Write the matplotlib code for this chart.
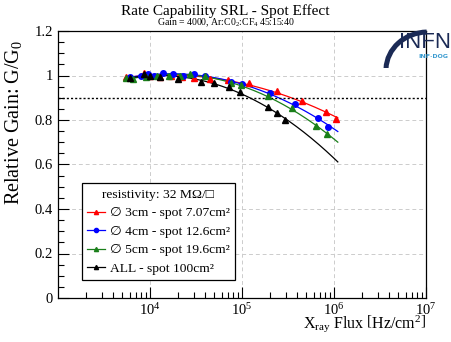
import numpy as np
import matplotlib
matplotlib.use("Agg")
import matplotlib.pyplot as plt
from matplotlib.patches import Arc
from matplotlib.ticker import FixedLocator, NullFormatter, FuncFormatter, LogLocator

plt.rcParams['font.family'] = ['Liberation Serif', 'DejaVu Sans']
plt.rcParams['mathtext.fontset'] = 'custom'
plt.rcParams['mathtext.rm'] = 'Liberation Serif'
plt.rcParams['mathtext.it'] = 'Liberation Serif:italic'

# ---- data ----
title = "Rate Capability SRL - Spot Effect"
subtitle = r"Gain = 4000, Ar:C0$_2$:CF$_4$ 45:15:40"
legend_header = "resistivity: 32 MΩ/□"
labels = ["∅ 3cm - spot 7.07cm²", "∅ 4cm - spot 12.6cm²",
          "∅ 5cm - spot 19.6cm²", "ALL - spot 100cm²"]

x_red = [5.5e3, 8.5e3, 1.0e4, 1.3e4, 1.7e4, 2.2e4, 3.0e4, 4.5e4, 7.0e4, 1.2e5, 2.43e5, 4.5e5, 8.1e5, 1.06e6]
y_red = [0.995, 1.01, 1.0, 0.995, 1.0, 0.995, 0.99, 0.985, 0.978, 0.965, 0.930, 0.887, 0.836, 0.804]

x_blue = [6.0e3, 8.0e3, 9.5e3, 1.1e4, 1.4e4, 1.8e4, 2.3e4, 3.0e4, 4.0e4, 7.6e4, 1.0e5, 2.02e5, 3.78e5, 6.67e5, 8.67e5]
y_blue = [0.995, 1.0, 1.005, 1.0, 1.01, 1.007, 1.0, 1.005, 0.998, 0.969, 0.962, 0.920, 0.872, 0.808, 0.770]

x_green = [5.5e3, 6.5e3, 9.0e3, 1.2e4, 1.6e4, 2.1e4, 2.7e4, 4.0e4, 7.5e4, 9.8e4, 1.9e5, 3.5e5, 6.4e5, 8.4e5]
y_green = [0.99, 0.985, 0.995, 1.0, 0.998, 1.0, 1.005, 0.999, 0.965, 0.957, 0.908, 0.852, 0.773, 0.736]

x_black = [6.0e3, 8.5e3, 1.0e4, 1.3e4, 2.0e4, 3.6e4, 5.0e4, 7.2e4, 9.5e4, 1.9e5, 2.39e5, 2.94e5]
y_black = [0.99, 1.005, 1.0, 0.995, 0.983, 0.972, 0.965, 0.950, 0.927, 0.857, 0.833, 0.800]

fit_range = [5.5e3, 1.1e6]
ref_line = 0.9

series = [(x_red, y_red, '#ff0000', '^'),
          (x_blue, y_blue, '#0000ff', 'o'),
          (x_green, y_green, '#1a7f1a', '^'),
          (x_black, y_black, '#000000', '^')]

fig = plt.figure(figsize=(4.51, 3.42), dpi=100)
ax = fig.add_axes([58/451, 1-298/342, 368/451, 267/342])

xf = np.logspace(np.log10(fit_range[0]), np.log10(fit_range[1]), 200)
handles = []
for (xs, ys, c, m), lab in zip(series, labels):
    xs = np.array(xs); ys = np.array(ys)
    p = np.polyfit(np.log10(xs), ys, 2)
    ax.plot(xf, np.polyval(p, np.log10(xf)), color=c, lw=0.9, zorder=2)
    ax.plot(xs, ys, ls='none', marker=m, color=c, ms=4, zorder=3)
    h, = ax.plot([], [], color=c, lw=0.9, marker=m, ms=3)
    handles.append(h)

ax.axhline(ref_line, color='black', ls=(0, (1.5, 1.5)), lw=1.0, zorder=2)

ax.set_xscale('log')
ax.set_xlim(1e3, 1e7)
ax.set_ylim(0, 1.2)
ax.xaxis.set_major_locator(FixedLocator([1e4, 1e5, 1e6, 1e7]))
ax.xaxis.set_minor_locator(LogLocator(base=10, subs=np.arange(2, 10)))
ax.xaxis.set_minor_formatter(NullFormatter())
ax.xaxis.set_major_formatter(FuncFormatter(lambda v, p: r"$10^{%d}$" % round(np.log10(v))))
ax.yaxis.set_major_locator(FixedLocator(np.arange(0, 1.21, 0.2)))
ax.yaxis.set_minor_locator(FixedLocator(np.arange(0, 1.21, 0.05)))
ax.yaxis.set_major_formatter(FuncFormatter(lambda v, p: "%g" % round(v, 2)))
ax.tick_params(which='both', direction='in', top=False, right=False, labelsize=10.5, width=0.8)
ax.tick_params(which='major', length=8)
ax.tick_params(which='minor', length=4)
ax.tick_params(axis='x', pad=3)
ax.grid(True, which='major', color='#cccccc', ls=(0, (4, 3)), lw=0.7)
for s in ax.spines.values():
    s.set_linewidth(0.9)

fig.text(14/451, 1-40/342, "Relative Gain: G/G$_0$", rotation=90, ha='center', va='top', fontsize=14.5)
fig.text(426/451, 1-334/342, r"X$_{\mathrm{ray}}$ Flux $\left[\mathrm{Hz/cm^2}\right]$",
         ha='right', va='bottom', fontsize=11.5)

fig.text(0.5, 1-11/342, title, ha='center', va='center', fontsize=11)
fig.text(0.5, 1-23/342, subtitle, ha='center', va='center', fontsize=7)

leg = ax.legend(handles, labels, title=legend_header, loc='lower left',
                bbox_to_anchor=(0.065, 0.067), fontsize=9.7, title_fontsize=9.7,
                frameon=True, fancybox=False, edgecolor='black', framealpha=1,
                handlelength=1.3, handletextpad=0.35, labelspacing=0.45,
                borderpad=0.4, borderaxespad=0)
leg.get_frame().set_linewidth(0.9)

# logo
lax = fig.add_axes([365/451, 1-68/342, 86/451, 48/342])
lax.set_xlim(365, 451); lax.set_ylim(68, 20)
lax.axis('off')
lax.add_patch(Arc((428, 70), 84, 76, theta1=182, theta2=268, color='#1b2a55', lw=3.6))
lax.text(451, 42, "INFN", ha='right', va='center', fontsize=16, color='#1b2a55',
         family=['Liberation Sans Narrow', 'Liberation Sans'])
lax.text(433, 56, "INF·DOG", ha='center', va='center', fontsize=4.5, color='#3a9bd0',
         family='DejaVu Sans', fontweight='bold')

fig.savefig('out.png', dpi=100)
